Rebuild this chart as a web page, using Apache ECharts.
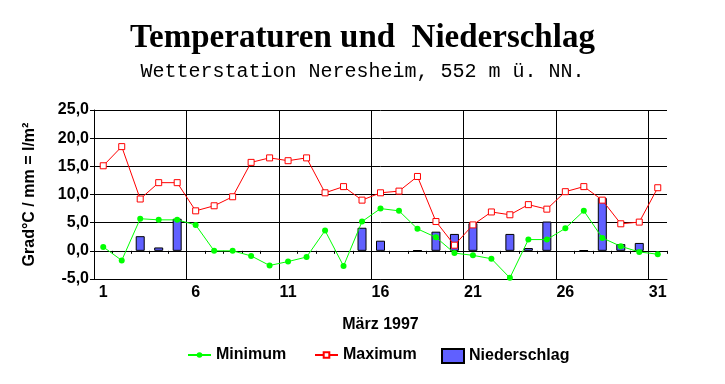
<!DOCTYPE html>
<html>
<head>
<meta charset="utf-8">
<script src="https://cdn.jsdelivr.net/npm/echarts@6/dist/echarts.min.js"></script>
<style>
html,body{margin:0;padding:0;background:#fff;}
#chart{width:725px;height:384px;}
</style>
</head>
<body>
<div id="chart"></div>
<script>
const days = ['1','2','3','4','5','6','7','8','9','10','11','12','13','14','15','16','17','18','19','20','21','22','23','24','25','26','27','28','29','30','31'];
const minimum = [0.7, -1.7, 5.7, 5.5, 5.5, 4.6, 0.0, 0.0, -0.9, -2.6, -1.9, -1.1, 3.6, -2.7, 5.2, 7.5, 7.1, 3.9, 2.4, -0.4, -0.8, -1.4, -4.8, 2.0, 2.0, 4.0, 7.1, 2.3, 0.8, -0.2, -0.6];
const maximum = [15.1, 18.5, 9.2, 12.1, 12.1, 7.1, 8.0, 9.6, 15.7, 16.5, 16.0, 16.5, 10.3, 11.4, 9.0, 10.3, 10.6, 13.2, 5.2, 1.0, 4.6, 6.9, 6.4, 8.2, 7.4, 10.5, 11.4, 9.0, 4.8, 5.1, 11.2];
const niederschlag = [0, 0, 2.6, 0.6, 5.7, 0, 0, 0, 0, 0, 0, 0, 0, 0, 4.1, 1.8, 0, 0.1, 3.4, 3.0, 4.9, 0, 3.0, 0.5, 5.2, 0, 0.1, 9.4, 1.2, 1.4, 0];
const yTicks = [-5, 0, 5, 10, 15, 20, 25];

const sans = 'Liberation Sans, Arial, sans-serif';

const chart = echarts.init(document.getElementById('chart'), null, { renderer: 'canvas' });
chart.setOption({
  animation: false,
  backgroundColor: '#ffffff',
  title: [
    { text: 'Temperaturen und  Niederschlag', left: 'center', top: 22, padding: 0,
      textStyle: { fontFamily: 'Liberation Serif, Times New Roman, serif', fontWeight: 'bold', fontSize: 33, color: '#000' } },
    { text: 'Wetterstation Neresheim, 552 m ü. NN.', left: 'center', top: 62, padding: 0,
      textStyle: { fontFamily: 'Liberation Mono, Courier New, monospace', fontWeight: 'normal', fontSize: 20, color: '#000' } }
  ],
  legend: [
    { data: ['Minimum'], left: 187, top: 347, padding: 0, itemWidth: 23, itemHeight: 7, itemGap: 0,
      textStyle: { fontFamily: sans, fontWeight: 'bold', fontSize: 16, color: '#000' } },
    { data: ['Maximum'], left: 314, top: 347, padding: 0, itemWidth: 23, itemHeight: 7, itemGap: 0,
      textStyle: { fontFamily: sans, fontWeight: 'bold', fontSize: 16, color: '#000' } },
    { data: [{ name: 'Niederschlag', icon: 'rect' }], left: 441, top: 348, padding: 0, itemWidth: 22, itemHeight: 14, itemGap: 0,
      textStyle: { fontFamily: sans, fontWeight: 'bold', fontSize: 16, color: '#000' } }
  ],
  grid: { left: 94, right: 58, top: 110, bottom: 105 },
  xAxis: [
    {
      type: 'category', data: days, position: 'bottom', boundaryGap: true,
      name: 'März 1997', nameLocation: 'middle', nameGap: 38,
      nameTextStyle: { fontFamily: sans, fontWeight: 'bold', fontSize: 16, color: '#000' },
      axisLine: { show: true, onZero: false, lineStyle: { color: '#000', width: 1 } },
      axisTick: { show: false },
      axisLabel: { interval: 4, margin: 6, fontFamily: sans, fontWeight: 'bold', fontSize: 16, color: '#000' },
      splitLine: { show: true, interval: 4, showMaxLine: false, lineStyle: { color: '#000', width: 1 } }
    },
    {
      type: 'category', data: days, position: 'top', boundaryGap: true,
      axisLine: { show: true, onZero: true, lineStyle: { color: '#000', width: 1 } },
      axisTick: { show: true, interval: 0, inside: true, length: 3, lineStyle: { color: '#000', width: 1 } },
      axisLabel: { show: false },
      splitLine: { show: false }
    }
  ],
  yAxis: {
    type: 'value', min: yTicks[0], max: yTicks[yTicks.length - 1], interval: 5,
    name: 'Grad°C / mm = l/m²', nameLocation: 'middle', nameGap: 56, nameRotate: 90,
    nameTextStyle: { fontFamily: sans, fontWeight: 'bold', fontSize: 16, color: '#000' },
    axisLine: { show: true, lineStyle: { color: '#000', width: 1 } },
    axisTick: { show: true, length: 4, lineStyle: { color: '#000', width: 1 } },
    axisLabel: { margin: 5, fontFamily: sans, fontWeight: 'bold', fontSize: 16, color: '#000',
      formatter: v => v.toFixed(1).replace('.', ',') },
    splitLine: { show: true, lineStyle: { color: '#000', width: 1 } }
  },
  series: [
    {
      name: 'Niederschlag', type: 'bar', xAxisIndex: 0, barWidth: 9,
      data: niederschlag.map(v => (v === 0 ? null : v)),
      itemStyle: { color: '#6060ff', borderColor: '#000', borderWidth: 1 }, z: 2
    },
    {
      name: 'Maximum', type: 'line', data: maximum, xAxisIndex: 0,
      symbol: 'rect', symbolSize: 6, showAllSymbol: true,
      itemStyle: { color: '#ffffff', borderColor: '#ff0000', borderWidth: 1 },
      lineStyle: { color: '#ff0000', width: 1 }, z: 3
    },
    {
      name: 'Minimum', type: 'line', data: minimum, xAxisIndex: 0,
      symbol: 'circle', symbolSize: 6, showAllSymbol: true,
      itemStyle: { color: '#00ff00' },
      lineStyle: { color: '#00ff00', width: 1 }, z: 4
    }
  ]
});
</script>
</body>
</html>
